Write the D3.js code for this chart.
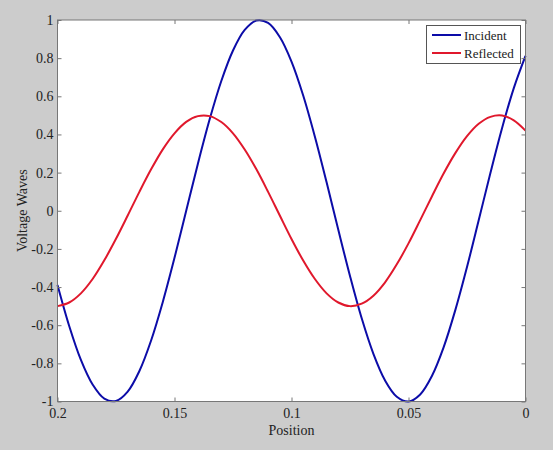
<!DOCTYPE html>
<html><head><meta charset="utf-8">
<script src="https://cdn.jsdelivr.net/npm/d3@7"></script>
<style>body{margin:0;background:#cccccc}svg{display:block}</style>
</head><body>
<svg id="c" width="553" height="450"></svg>
<script>
const positions = d3.range(41).map(i => +(i * 0.005).toFixed(3));
const incident = [0.812,0.643,0.434,0.198,-0.050,-0.295,-0.521,-0.716,-0.866,-0.963,-1.000,-0.975,-0.890,-0.750,-0.564,-0.342,-0.100,0.149,0.388,0.604,0.782,0.911,0.985,0.997,0.948,0.840,0.680,0.478,0.247,0.000,-0.247,-0.478,-0.680,-0.840,-0.948,-0.997,-0.985,-0.911,-0.782,-0.604,-0.389];
const reflected = [0.420,0.474,0.499,0.492,0.456,0.391,0.302,0.195,0.075,-0.049,-0.171,-0.281,-0.375,-0.445,-0.487,-0.500,-0.481,-0.433,-0.358,-0.261,-0.148,-0.025,0.099,0.217,0.321,0.406,0.465,0.496,0.496,0.466,0.406,0.322,0.217,0.099,-0.025,-0.147,-0.260,-0.358,-0.433,-0.481,-0.500];
const xTicks = [0.2,0.15,0.1,0.05,0];
const yTicks = [-1,-0.8,-0.6,-0.4,-0.2,0,0.2,0.4,0.6,0.8,1];
const seriesNames = ["Incident","Reflected"];
const seriesColors = ["#0c0ca8","#e0182c"];

const svg = d3.select("#c");
const L = 57.5, R = 525.5, T = 20, B = 401.5;
const x = d3.scaleLinear().domain([0.2, 0]).range([L, R]);
const y = d3.scaleLinear().domain([-1, 1]).range([B, T]);
const font = "'Liberation Serif','Times New Roman',serif";
const fs = "14px";

svg.append("rect").attr("width",553).attr("height",450).attr("fill","#cccccc");
svg.append("rect").attr("x",L).attr("y",T).attr("width",R-L).attr("height",B-T).attr("fill","#fff");

const line = d3.line().x((d,i)=>x(positions[i])).y(d=>y(d)).curve(d3.curveCatmullRom);
[incident, reflected].forEach((s,k)=>{
  svg.append("path").attr("d", line(s)).attr("fill","none")
    .attr("stroke", seriesColors[k]).attr("stroke-width",2);
});

function styleAxis(g){
  g.select(".domain").remove();
  g.selectAll("line").attr("stroke","#777");
  g.selectAll("text").attr("fill","#222").style("font-family",font).style("font-size",fs);
}
const fmt = d => String(d);
svg.append("g").attr("transform",`translate(0,${B})`)
  .call(d3.axisBottom(x).tickValues(xTicks).tickFormat(fmt).tickSizeInner(-4).tickSizeOuter(0).tickPadding(7))
  .call(styleAxis);
svg.append("g").attr("transform",`translate(0,${T})`)
  .call(d3.axisTop(x).tickValues(xTicks).tickFormat("").tickSizeInner(-4).tickSizeOuter(0))
  .call(styleAxis);
svg.append("g").attr("transform",`translate(${L},0)`)
  .call(d3.axisLeft(y).tickValues(yTicks).tickFormat(fmt).tickSizeInner(-4).tickSizeOuter(0).tickPadding(4))
  .call(styleAxis);
svg.append("g").attr("transform",`translate(${R},0)`)
  .call(d3.axisRight(y).tickValues(yTicks).tickFormat("").tickSizeInner(-4).tickSizeOuter(0))
  .call(styleAxis);

svg.append("rect").attr("x",L).attr("y",T).attr("width",R-L).attr("height",B-T)
  .attr("fill","none").attr("stroke","#777").attr("stroke-width",1);

svg.append("text").attr("x",(L+R)/2).attr("y",435).attr("text-anchor","middle")
  .style("font-family",font).style("font-size",fs).attr("fill","#222").text("Position");
svg.append("text").attr("transform",`translate(27,${(T+B)/2}) rotate(-90)`).attr("text-anchor","middle")
  .style("font-family",font).style("font-size",fs).attr("fill","#222").text("Voltage Waves");

const lg = svg.append("g");
lg.append("rect").attr("x",426.5).attr("y",25.5).attr("width",94).attr("height",38)
  .attr("fill","#fff").attr("stroke","#555");
seriesNames.forEach((n,k)=>{
  const yy = 35 + k*18;
  lg.append("line").attr("x1",432).attr("x2",461).attr("y1",yy).attr("y2",yy)
    .attr("stroke",seriesColors[k]).attr("stroke-width",2);
  lg.append("text").attr("x",464).attr("y",yy+4.5).style("font-family",font).style("font-size","13px")
    .attr("fill","#222").text(n);
});
</script>
</body></html>
